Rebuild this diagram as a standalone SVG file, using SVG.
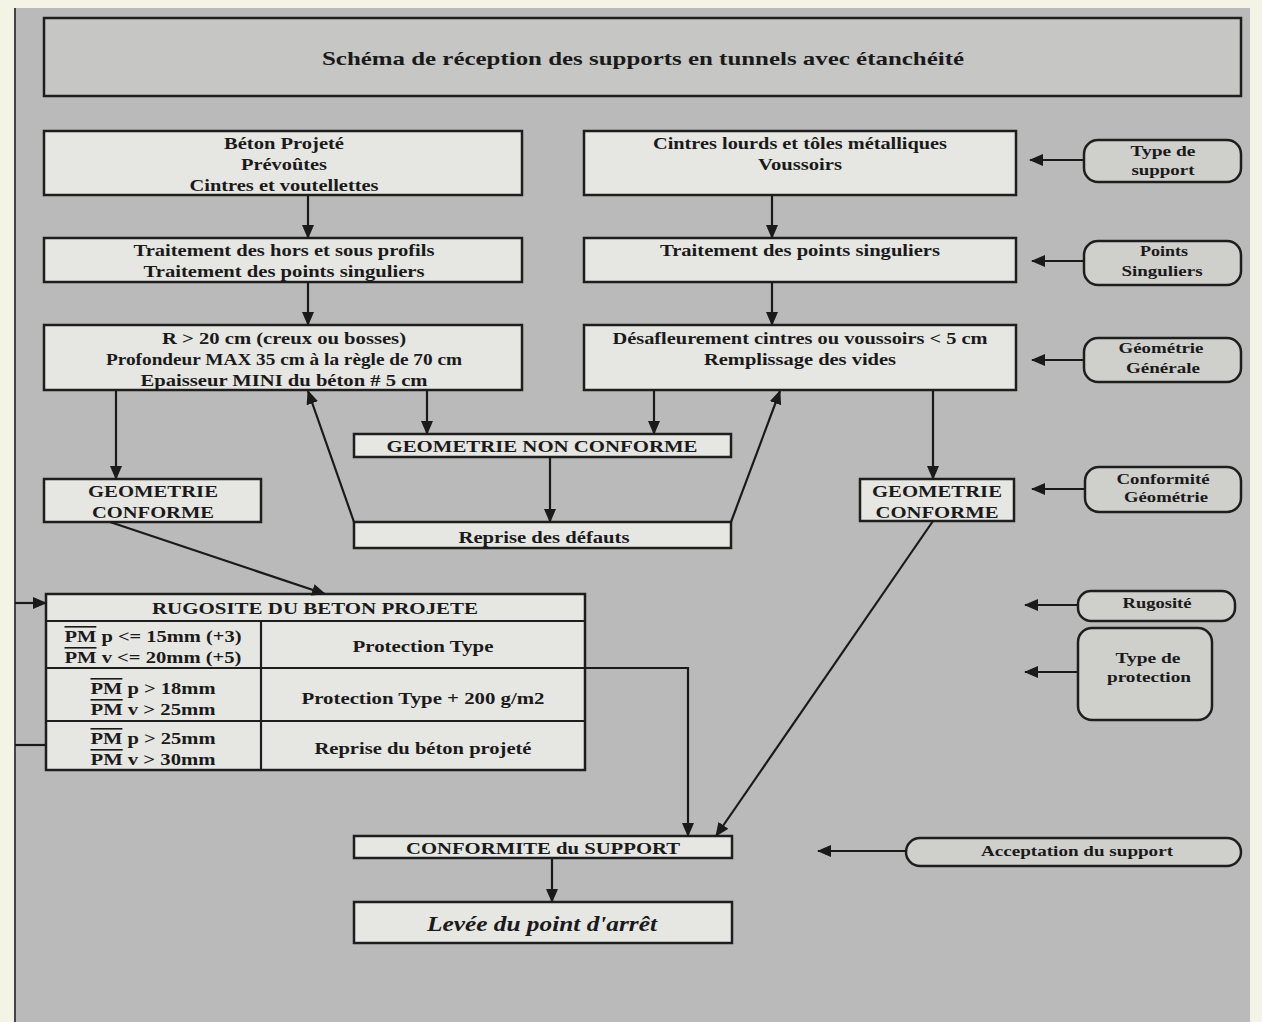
<svg xmlns="http://www.w3.org/2000/svg" width="1262" height="1022" viewBox="0 0 1262 1022">
<defs>
<marker id="ah" markerUnits="userSpaceOnUse" markerWidth="14" markerHeight="12" refX="13" refY="6" orient="auto">
<path d="M0,0 L14,6 L0,12 Z" fill="#1a1a1a"/>
</marker>
<style>
.box{fill:#e6e6e3;stroke:#1e1e1e;stroke-width:2.5}
.lbl{fill:#cfcfcc;stroke:#1e1e1e;stroke-width:2.5}
.t{font-family:"Liberation Serif","Times New Roman",serif;font-weight:bold;font-size:16px;fill:#1a1a1a;text-anchor:middle;dominant-baseline:central}
.s{font-size:14px}
.c{fill:none;stroke:#1a1a1a;stroke-width:2.2}
.cl{fill:none;stroke:#1a1a1a;stroke-width:2}
.ov{text-decoration:overline}
</style>
</defs>
<rect x="0" y="0" width="1262" height="1022" fill="#f3f3e6"/>
<rect x="14" y="8" width="1236" height="1014" fill="#bababa"/>
<line x1="15" y1="8" x2="15" y2="1022" stroke="#444" stroke-width="2"/>

<g id="title">
<rect x="44" y="18" width="1197" height="78" fill="#c6c6c4" stroke="#1e1e1e" stroke-width="2.5"/>
<text class="t" x="643" y="58" style="font-size:19px" textLength="642" lengthAdjust="spacingAndGlyphs">Schéma de réception des supports en tunnels avec étanchéité</text>
</g>

<g id="n-beton">
<rect class="box" x="44" y="131" width="478" height="64"/>
<text class="t" x="284" y="143" textLength="120" lengthAdjust="spacingAndGlyphs">Béton Projeté</text>
<text class="t" x="284" y="164" textLength="86" lengthAdjust="spacingAndGlyphs">Prévoûtes</text>
<text class="t" x="284" y="185" textLength="189" lengthAdjust="spacingAndGlyphs">Cintres et voutellettes</text>
</g>
<g id="n-cintres">
<rect class="box" x="584" y="131" width="432" height="64"/>
<text class="t" x="800" y="143" textLength="294" lengthAdjust="spacingAndGlyphs">Cintres lourds et tôles métalliques</text>
<text class="t" x="800" y="164" textLength="84" lengthAdjust="spacingAndGlyphs">Voussoirs</text>
</g>
<g id="n-trait-left">
<rect class="box" x="44" y="238" width="478" height="44"/>
<text class="t" x="284" y="250" textLength="301" lengthAdjust="spacingAndGlyphs">Traitement des hors et sous profils</text>
<text class="t" x="284" y="271" textLength="281" lengthAdjust="spacingAndGlyphs">Traitement des points singuliers</text>
</g>
<g id="n-trait-right">
<rect class="box" x="584" y="238" width="432" height="44"/>
<text class="t" x="800" y="250" textLength="280" lengthAdjust="spacingAndGlyphs">Traitement des points singuliers</text>
</g>
<g id="n-geo-left">
<rect class="box" x="44" y="325" width="478" height="65"/>
<text class="t" x="284" y="338" textLength="244" lengthAdjust="spacingAndGlyphs">R &gt; 20 cm (creux ou bosses)</text>
<text class="t" x="284" y="359" textLength="356" lengthAdjust="spacingAndGlyphs">Profondeur MAX 35 cm à la règle de 70 cm</text>
<text class="t" x="284" y="380" textLength="287" lengthAdjust="spacingAndGlyphs">Epaisseur MINI du béton # 5 cm</text>
</g>
<g id="n-geo-right">
<rect class="box" x="584" y="325" width="432" height="65"/>
<text class="t" x="800" y="338" textLength="375" lengthAdjust="spacingAndGlyphs">Désafleurement cintres ou voussoirs &lt; 5 cm</text>
<text class="t" x="800" y="359" textLength="192" lengthAdjust="spacingAndGlyphs">Remplissage des vides</text>
</g>
<g id="n-gnc">
<rect class="box" x="354" y="434" width="377" height="23"/>
<text class="t" x="542" y="446" textLength="311" lengthAdjust="spacingAndGlyphs">GEOMETRIE NON CONFORME</text>
</g>
<g id="n-reprise">
<rect class="box" x="354" y="522" width="377" height="26"/>
<text class="t" x="544" y="537" textLength="171" lengthAdjust="spacingAndGlyphs">Reprise des défauts</text>
</g>
<g id="n-gc-left">
<rect class="box" x="44" y="479" width="217" height="43"/>
<text class="t" x="153" y="491" textLength="130" lengthAdjust="spacingAndGlyphs">GEOMETRIE</text>
<text class="t" x="153" y="512" textLength="122" lengthAdjust="spacingAndGlyphs">CONFORME</text>
</g>
<g id="n-gc-right">
<rect class="box" x="860" y="479" width="154" height="42"/>
<text class="t" x="937" y="491" textLength="130" lengthAdjust="spacingAndGlyphs">GEOMETRIE</text>
<text class="t" x="937" y="512" textLength="123" lengthAdjust="spacingAndGlyphs">CONFORME</text>
</g>

<g id="n-rugosite-table">
<rect class="box" x="46" y="594" width="539" height="176"/>
<line x1="46" y1="621" x2="585" y2="621" stroke="#1e1e1e" stroke-width="2.2"/>
<line x1="46" y1="668" x2="585" y2="668" stroke="#1e1e1e" stroke-width="2.2"/>
<line x1="46" y1="721" x2="585" y2="721" stroke="#1e1e1e" stroke-width="2.2"/>
<line x1="261" y1="621" x2="261" y2="770" stroke="#1e1e1e" stroke-width="2.2"/>
<text class="t" x="315" y="608" textLength="326" lengthAdjust="spacingAndGlyphs">RUGOSITE DU BETON PROJETE</text>
<text class="t" x="153" y="636" textLength="177" lengthAdjust="spacingAndGlyphs"><tspan class="ov">PM</tspan> p &lt;= 15mm (+3)</text>
<text class="t" x="153" y="657" textLength="177" lengthAdjust="spacingAndGlyphs"><tspan class="ov">PM</tspan> v &lt;= 20mm (+5)</text>
<text class="t" x="423" y="646" textLength="141" lengthAdjust="spacingAndGlyphs">Protection Type</text>
<text class="t" x="153" y="688" textLength="125" lengthAdjust="spacingAndGlyphs"><tspan class="ov">PM</tspan> p &gt; 18mm</text>
<text class="t" x="153" y="709" textLength="125" lengthAdjust="spacingAndGlyphs"><tspan class="ov">PM</tspan> v &gt; 25mm</text>
<text class="t" x="423" y="698" textLength="243" lengthAdjust="spacingAndGlyphs">Protection Type + 200 g/m2</text>
<text class="t" x="153" y="738" textLength="125" lengthAdjust="spacingAndGlyphs"><tspan class="ov">PM</tspan> p &gt; 25mm</text>
<text class="t" x="153" y="759" textLength="125" lengthAdjust="spacingAndGlyphs"><tspan class="ov">PM</tspan> v &gt; 30mm</text>
<text class="t" x="423" y="748" textLength="217" lengthAdjust="spacingAndGlyphs">Reprise du béton projeté</text>
</g>

<g id="n-conformite">
<rect class="box" x="354" y="836" width="378" height="22"/>
<text class="t" x="543" y="848" textLength="274" lengthAdjust="spacingAndGlyphs">CONFORMITE du SUPPORT</text>
</g>
<g id="n-levee">
<rect class="box" x="354" y="902" width="378" height="41"/>
<text class="t" x="542" y="924" style="font-size:20px;font-style:italic" textLength="230" lengthAdjust="spacingAndGlyphs">Levée du point d'arrêt</text>
</g>

<g id="l-type-support">
<rect class="lbl" x="1084" y="140" width="157" height="42" rx="14"/>
<text class="t s" x="1163" y="151" textLength="65" lengthAdjust="spacingAndGlyphs">Type de</text>
<text class="t s" x="1163" y="170" textLength="63" lengthAdjust="spacingAndGlyphs">support</text>
</g>
<g id="l-points">
<rect class="lbl" x="1084" y="241" width="157" height="44" rx="14"/>
<text class="t s" x="1164" y="251" textLength="48" lengthAdjust="spacingAndGlyphs">Points</text>
<text class="t s" x="1162" y="271" textLength="81" lengthAdjust="spacingAndGlyphs">Singuliers</text>
</g>
<g id="l-geometrie">
<rect class="lbl" x="1084" y="338" width="157" height="44" rx="14"/>
<text class="t s" x="1161" y="348" textLength="85" lengthAdjust="spacingAndGlyphs">Géométrie</text>
<text class="t s" x="1163" y="368" textLength="74" lengthAdjust="spacingAndGlyphs">Générale</text>
</g>
<g id="l-conformite-geo">
<rect class="lbl" x="1085" y="467" width="156" height="45" rx="14"/>
<text class="t s" x="1163" y="479" textLength="93" lengthAdjust="spacingAndGlyphs">Conformité</text>
<text class="t s" x="1166" y="497" textLength="84" lengthAdjust="spacingAndGlyphs">Géométrie</text>
</g>
<g id="l-rugosite">
<rect class="lbl" x="1078" y="591" width="157" height="30" rx="13"/>
<text class="t s" x="1157" y="603" textLength="69" lengthAdjust="spacingAndGlyphs">Rugosité</text>
</g>
<g id="l-type-protection">
<rect class="lbl" x="1078" y="628" width="134" height="92" rx="14"/>
<text class="t s" x="1148" y="658" textLength="65" lengthAdjust="spacingAndGlyphs">Type de</text>
<text class="t s" x="1149" y="677" textLength="84" lengthAdjust="spacingAndGlyphs">protection</text>
</g>
<g id="l-acceptation">
<rect class="lbl" x="906" y="838" width="335" height="28" rx="14"/>
<text class="t s" x="1077" y="851" textLength="192" lengthAdjust="spacingAndGlyphs">Acceptation du support</text>
</g>

<g id="connectors">
<line class="c" x1="308" y1="195" x2="308" y2="238" marker-end="url(#ah)"/>
<line class="c" x1="772" y1="195" x2="772" y2="238" marker-end="url(#ah)"/>
<line class="c" x1="308" y1="282" x2="308" y2="325" marker-end="url(#ah)"/>
<line class="c" x1="772" y1="282" x2="772" y2="325" marker-end="url(#ah)"/>
<line class="c" x1="116" y1="390" x2="116" y2="479" marker-end="url(#ah)"/>
<line class="c" x1="427" y1="390" x2="427" y2="434" marker-end="url(#ah)"/>
<line class="c" x1="654" y1="390" x2="654" y2="434" marker-end="url(#ah)"/>
<line class="c" x1="933" y1="390" x2="933" y2="479" marker-end="url(#ah)"/>
<line class="c" x1="550" y1="457" x2="550" y2="522" marker-end="url(#ah)"/>
<line class="c" x1="354" y1="522" x2="308" y2="391" marker-end="url(#ah)"/>
<line class="c" x1="731" y1="522" x2="780" y2="391" marker-end="url(#ah)"/>
<line class="c" x1="110" y1="522" x2="325" y2="594" marker-end="url(#ah)"/>
<line class="c" x1="933" y1="521" x2="716" y2="836" marker-end="url(#ah)"/>
<polyline class="c" points="585,668 688,668 688,836" marker-end="url(#ah)"/>
<line class="c" x1="15" y1="603" x2="46" y2="603" marker-end="url(#ah)"/>
<line class="c" x1="15" y1="745" x2="46" y2="745"/>
<line class="c" x1="552" y1="858" x2="552" y2="902" marker-end="url(#ah)"/>
<line class="cl" x1="1084" y1="160" x2="1030" y2="160" marker-end="url(#ah)"/>
<line class="cl" x1="1084" y1="261" x2="1032" y2="261" marker-end="url(#ah)"/>
<line class="cl" x1="1084" y1="360" x2="1032" y2="360" marker-end="url(#ah)"/>
<line class="cl" x1="1085" y1="489" x2="1032" y2="489" marker-end="url(#ah)"/>
<line class="cl" x1="1078" y1="605" x2="1025" y2="605" marker-end="url(#ah)"/>
<line class="cl" x1="1078" y1="672" x2="1025" y2="672" marker-end="url(#ah)"/>
<line class="cl" x1="906" y1="851" x2="818" y2="851" marker-end="url(#ah)"/>
</g>
</svg>
